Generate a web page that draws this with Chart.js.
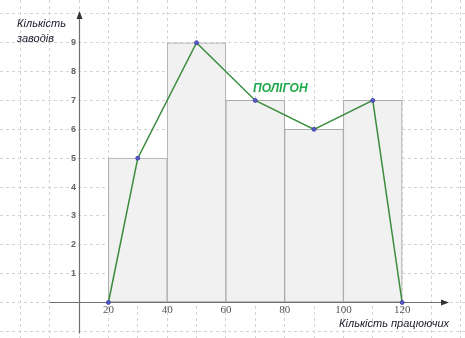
<!DOCTYPE html>
<html>
<head>
<meta charset="utf-8">
<script src="https://cdn.jsdelivr.net/npm/chart.js@4"></script>
<style>
    html, body { margin: 0; padding: 0; background: #fff; }
    #wrap { width: 465px; height: 338px; }
</style>
</head>
<body>
<div id="wrap"><canvas id="grafico" width="465" height="338"></canvas></div>
<script>
// histogram intervals (centres) and heights
const intervalCentres = [30, 50, 70, 90, 110];
const zavodiv = [5, 9, 7, 6, 7];

// polygon points
const polyX = [20, 30, 50, 70, 90, 110, 120];
const polyY = [0, 5, 9, 7, 6, 7, 0];

const xTickLabels = [20, 40, 60, 80, 100, 120];
const yTickLabels = [1, 2, 3, 4, 5, 6, 7, 8, 9];

const titleY = ["Кількість", "заводів"];
const titleX = "Кількість працюючих";
const polyLabel = "ПОЛІГОН";

const X_MIN = -16.9, X_MAX = 141.4;
const Y_MIN = -1.23, Y_MAX = 10.48;
const Y_AXIS_AT = 10;

function arrow(ctx, x, y, dir) {
    ctx.beginPath();
    if (dir === "up") {
        ctx.moveTo(x, y);
        ctx.lineTo(x - 3, y + 8);
        ctx.lineTo(x + 3, y + 8);
    } else {
        ctx.moveTo(x, y);
        ctx.lineTo(x - 8, y - 3);
        ctx.lineTo(x - 8, y + 3);
    }
    ctx.closePath();
    ctx.fill();
}

const ejes = {
    id: "ejes",
    afterDatasetDraw(chart, args) {
        if (args.index !== 0) return;
        const { ctx, scales: { x, y } } = chart;
        const y0 = Math.round(y.getPixelForValue(0)) + 0.5;
        const xa = Math.round(x.getPixelForValue(Y_AXIS_AT)) + 0.5;
        ctx.save();
        ctx.strokeStyle = "#707070";
        ctx.fillStyle = "#333";
        ctx.lineWidth = 1.2;
        ctx.beginPath();
        ctx.moveTo(x.getPixelForValue(0), y0);
        ctx.lineTo(446, y0);
        ctx.moveTo(xa, y.getPixelForValue(-1.07));
        ctx.lineTo(xa, 14);
        ctx.stroke();
        arrow(ctx, 449, y0, "right");
        arrow(ctx, xa, 11, "up");
        ctx.restore();
    },
    afterDraw(chart) {
        const { ctx, scales: { x, y } } = chart;
        const xa = x.getPixelForValue(Y_AXIS_AT);
        const y0 = y.getPixelForValue(0);
        ctx.save();
        ctx.fillStyle = "#666";
        ctx.font = "bold 9px 'Liberation Sans', Arial, sans-serif";
        ctx.textAlign = "right";
        ctx.textBaseline = "middle";
        yTickLabels.forEach((v) => ctx.fillText(String(v), xa - 3, y.getPixelForValue(v)));

        ctx.fillStyle = "#555";
        ctx.font = "11px 'Liberation Serif', serif";
        ctx.textAlign = "center";
        ctx.textBaseline = "middle";
        xTickLabels.forEach((v) => ctx.fillText(String(v), x.getPixelForValue(v), y0 + 8));

        ctx.fillStyle = "#1a1a2a";
        ctx.font = "italic 11px 'Liberation Sans', Arial, sans-serif";
        ctx.textAlign = "left";
        ctx.textBaseline = "alphabetic";
        ctx.fillText(titleY[0], 17, 27);
        ctx.fillText(titleY[1], 17, 42);
        ctx.textAlign = "right";
        ctx.fillText(titleX, 449, 327);

        ctx.fillStyle = "#1fa84a";
        ctx.font = "bold italic 12px 'Liberation Sans', Arial, sans-serif";
        ctx.textAlign = "left";
        ctx.fillText(polyLabel, 253, 92);
        ctx.restore();
    }
};

new Chart(document.getElementById("grafico"), {
    type: "bar",
    data: {
        datasets: [
            {
                type: "bar",
                data: intervalCentres.map((c, i) => ({ x: c, y: zavodiv[i] })),
                backgroundColor: "#f1f1f1",
                borderColor: "#aaaaaa",
                borderWidth: 1,
                borderSkipped: false,
                barPercentage: 1,
                categoryPercentage: 1,
                order: 1
            },
            {
                type: "line",
                data: polyX.map((v, i) => ({ x: v, y: polyY[i] })),
                borderColor: "#3a8c3c",
                borderWidth: 1.5,
                pointRadius: 2,
                pointBackgroundColor: "#5a5ad0",
                pointBorderColor: "#3a3a99",
                pointBorderWidth: 0.8,
                tension: 0,
                order: 0
            }
        ]
    },
    options: {
        responsive: false,
        animation: false,
        layout: { padding: 0, autoPadding: false },
        plugins: { legend: { display: false }, tooltip: { enabled: false } },
        scales: {
            x: {
                type: "linear",
                offset: false,
                min: X_MIN,
                max: X_MAX,
                ticks: { display: false, stepSize: 20, includeBounds: false },
                grid: { display: false, drawTicks: false, offset: false },
                border: { display: false }
            },
            xg: {
                type: "linear",
                position: "bottom",
                offset: false,
                min: X_MIN,
                max: X_MAX,
                ticks: { display: false, stepSize: 10, includeBounds: false },
                grid: { color: "#d4d4d4", drawTicks: false, offset: false },
                border: { display: false, dash: [3, 3] }
            },
            y: {
                type: "linear",
                min: Y_MIN,
                max: Y_MAX,
                ticks: { display: false, stepSize: 1, includeBounds: false },
                grid: { color: "#d4d4d4", drawTicks: false },
                border: { display: false, dash: [3, 3] }
            }
        }
    },
    plugins: [ejes]
});
</script>
</body>
</html>
